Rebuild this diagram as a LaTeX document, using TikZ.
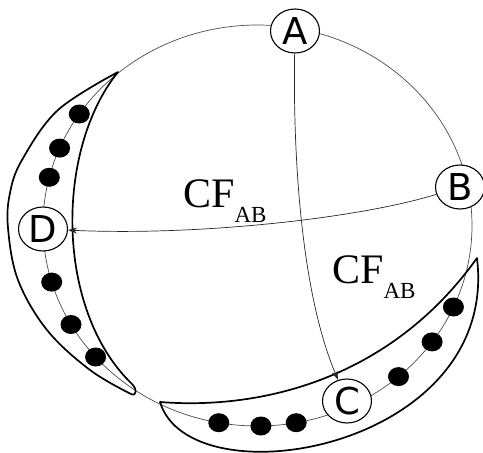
\documentclass[tikz,border=0pt]{standalone}
\usepackage{fontspec}
\setmainfont{Liberation Serif}
\newfontfamily\lettfont{DejaVu Sans}
\usetikzlibrary{shapes.geometric,arrows.meta}
\begin{document}
\begin{tikzpicture}[x=1pt,y=-1pt,
  letter/.style={draw=black, line width=1.1pt, fill=white, ellipse, minimum width=49pt, minimum height=44pt, inner sep=0pt, font=\lettfont\fontsize{37}{37}\selectfont},
  blob/.style={fill=black, ellipse, minimum width=21pt, minimum height=19pt, inner sep=0pt},
  crescent/.style={draw=black, line width=1.7pt, line join=round},
  flow/.style={draw=black!85, line width=0.7pt, -{Stealth[length=9pt,width=6pt]}},
  ring/.style={draw=black!70, line width=0.7pt},
  lab/.style={anchor=base west, inner sep=0pt}]
\useasboundingbox (0,0) rectangle (483,453);
\draw[ring] (257.5,225.5) ellipse [x radius=214.5pt, y radius=200.5pt];
% crescents
\draw[crescent] plot[smooth, tension=0.6] coordinates {(118,72) (58,110) (22,160) (10,193) (8,228) (18,280) (47,330) (90,370) (131,394)}
  .. controls (137,397) and (137,388) .. (132,384)
  .. controls (55,310) and (55,150) .. (118,72) -- cycle;
\draw[crescent] (160,402) .. controls (260,410) and (390,380) .. (477,258)
  .. controls (500,450) and (190,502) .. (160,402) -- cycle;
% dots
\node[blob] (d1) at (79.3,114.0) {};
\node[blob] (d2) at (59.6,148.1) {};
\node[blob] (d3) at (49.3,177.3) {};
\node[blob] (d4) at (51.7,282.1) {};
\node[blob] (d5) at (71.0,324.5) {};
\node[blob] (d6) at (95.6,357.0) {};
\node[blob] (d7) at (218.8,422.7) {};
\node[blob] (d8) at (260.9,426.0) {};
\node[blob] (d9) at (296.2,422.7) {};
\node[blob] (d10) at (398.5,376.6) {};
\node[blob] (d11) at (432.1,341.9) {};
\node[blob] (d12) at (453.4,307.0) {};
% letter nodes
\node[letter] (A) at (295,31) {A};
\node[letter] (B) at (460,187) {B};
\node[letter] (C) at (347,401) {C};
\node[letter] (D) at (43,229) {D};
% arrows
\draw[flow] (A) .. controls (293,150) and (300,290) .. (C);
\draw[flow] (B) .. controls (360,218) and (200,236) .. (D);
% labels
\node[lab] (L1) at (183,207) {\fontsize{42}{42}\selectfont CF\raisebox{-15pt}{\fontsize{23}{23}\selectfont AB}};
\node[lab] (L2) at (332,283) {\fontsize{42}{42}\selectfont CF\raisebox{-15pt}{\fontsize{23}{23}\selectfont AB}};
\end{tikzpicture}
\end{document}
